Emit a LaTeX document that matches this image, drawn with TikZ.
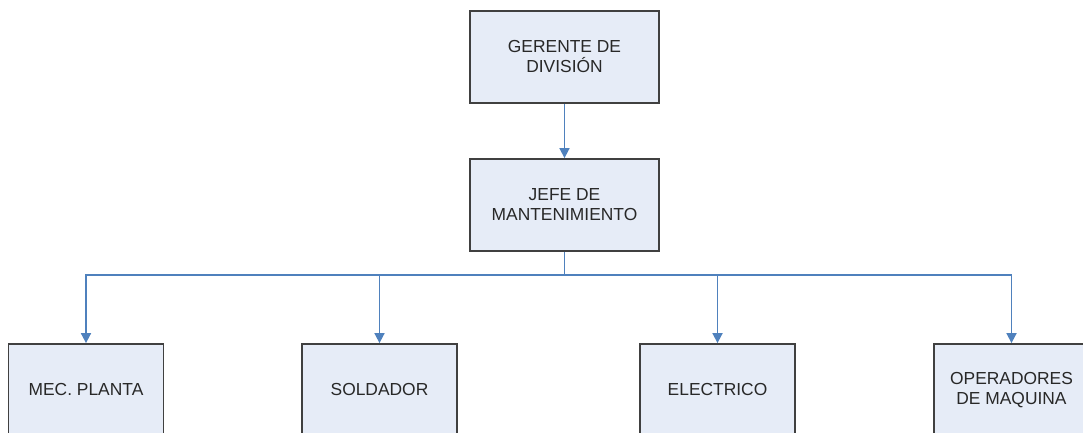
\documentclass[tikz,border=0pt]{standalone}
\usepackage{fontspec}
\setmainfont{Liberation Sans}
\usetikzlibrary{arrows.meta}
\definecolor{boxfill}{RGB}{230,236,247}
\definecolor{boxline}{RGB}{64,64,64}
\definecolor{conncol}{RGB}{79,129,189}
\definecolor{txt}{RGB}{40,40,40}
\tikzset{
  orgbox/.style={draw=boxline, line width=1.8pt, fill=boxfill, minimum width=189pt, minimum height=92pt,
    align=center, text=txt, inner sep=0pt, font=\fontsize{17.4}{20}\selectfont},
  leafbox/.style={orgbox, minimum width=155pt},
  conn/.style={draw=conncol, line width=1.7pt, -{Triangle[width=10pt,length=10pt]}},
  busline/.style={draw=conncol, line width=1.7pt}
}
\begin{document}
\begin{tikzpicture}[x=1pt,y=-1pt]
\useasboundingbox (0,0) rectangle (1083,432);
\clip (0,0) rectangle (1083,432);
\fill[white] (0,0) rectangle (1083,432);
\node[orgbox] (ger) at (564.5,57) {GERENTE DE\\DIVISIÓN};
\node[orgbox] (jefe) at (564.5,205) {JEFE DE\\MANTENIMIENTO};
\node[leafbox] (mec) at (86,390) {MEC. PLANTA};
\node[leafbox] (sol) at (379.5,390) {SOLDADOR};
\node[leafbox] (ele) at (717.5,390) {ELECTRICO};
\node[leafbox] (ope) at (1011.5,390) {OPERADORES\\DE MAQUINA};
\coordinate (bus) at (564.5,275);
\draw[conn] (ger.south) -- (jefe.north);
\draw[busline] (jefe.south) -- (bus);
\draw[conn] (bus) -| (mec.north);
\draw[conn] (bus) -| (sol.north);
\draw[conn] (bus) -| (ele.north);
\draw[conn] (bus) -| (ope.north);
\end{tikzpicture}
\end{document}
